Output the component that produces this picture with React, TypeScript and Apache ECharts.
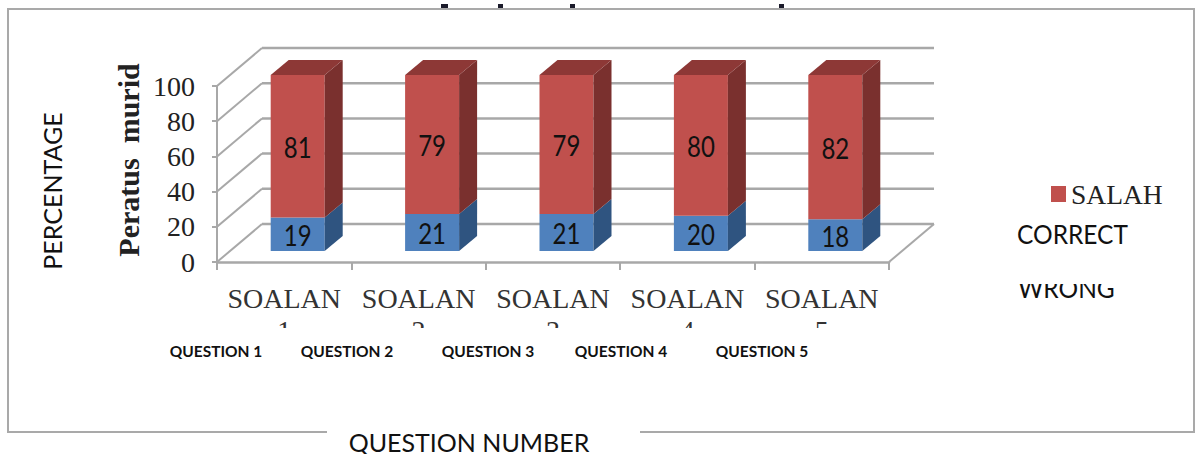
import React, { useEffect, useRef } from "react";
import * as echarts from "echarts";

const categories = ["SOALAN\n1", "SOALAN\n2", "SOALAN\n3", "SOALAN\n4", "SOALAN\n5"];
const englishLabels = ["QUESTION 1", "QUESTION 2", "QUESTION 3", "QUESTION 4", "QUESTION 5"];
const englishLabelX = [216, 347, 488, 621, 762];
const correctValues = [19, 21, 21, 20, 18];
const wrongValues = [81, 79, 79, 80, 82];
const yTicks = [0, 20, 40, 60, 80, 100];
const clippedTitleMarks = [[441, 7], [498, 5], [570, 5], [779, 5]];

const WALL_DX = 45;
const WALL_DY = -38;
const BAR_SHIFT_X = 13.5;
const BAR_SHIFT_Y = -11;
const BAR_W = 54;
const BAR_DX = 18;
const BAR_DY = -15;
const GRID_COLOR = "#a8a8a8";

const wallRender = (params: any, api: any) => {
  const cs = params.coordSys;
  const v = api.value(1);
  const y = api.coord([0, v])[1];
  const x0 = cs.x;
  const x1 = cs.x + cs.width;
  const children: any[] = [
    { type: "line", shape: { x1: x0, y1: y, x2: x0 + WALL_DX, y2: y + WALL_DY }, style: { stroke: GRID_COLOR, lineWidth: 2 } },
    { type: "line", shape: { x1: x0 + WALL_DX, y1: y + WALL_DY, x2: x1 + WALL_DX, y2: y + WALL_DY }, style: { stroke: GRID_COLOR, lineWidth: 2.5 } },
  ];
  if (v === 0) {
    children.push({ type: "line", shape: { x1: x1, y1: y, x2: x1 + WALL_DX, y2: y + WALL_DY }, style: { stroke: GRID_COLOR, lineWidth: 2 } });
  }
  return { type: "group", children };
};

const barRender = (base: number[], front: string, side: string, top: string | null) => (params: any, api: any) => {
  const i = api.value(0);
  const v = api.value(1);
  const b = base[i];
  const cx = api.coord([i, 0])[0] + BAR_SHIFT_X;
  const yb = api.coord([i, b])[1] + BAR_SHIFT_Y;
  const yt = api.coord([i, b + v])[1] + BAR_SHIFT_Y;
  const l = cx - BAR_W / 2;
  const r = cx + BAR_W / 2;
  const children: any[] = [
    { type: "polygon", shape: { points: [[l, yt], [r, yt], [r, yb], [l, yb]] }, style: { fill: front } },
    { type: "polygon", shape: { points: [[r, yt], [r + BAR_DX, yt + BAR_DY], [r + BAR_DX, yb + BAR_DY], [r, yb]] }, style: { fill: side } },
  ];
  if (top) {
    children.push({ type: "polygon", shape: { points: [[l, yt], [l + BAR_DX, yt + BAR_DY], [r + BAR_DX, yt + BAR_DY], [r, yt]] }, style: { fill: top } });
  }
  children.push({
    type: "text",
    x: cx,
    y: (yt + yb) / 2 + 1,
    scaleY: 1.2,
    style: { text: String(v), fill: "#111", font: '24px Lato', align: "center", verticalAlign: "middle" },
  });
  return { type: "group", children };
};

export default function App() {
  const ref = useRef<HTMLDivElement>(null);
  useEffect(() => {
    document.body.style.margin = "0";
    const chart = echarts.init(ref.current!, undefined, { renderer: "svg" });
    chart.setOption({
      animation: false,
      backgroundColor: "#fff",
      grid: { left: 217, top: 86, width: 672, height: 176 },
      legend: {
        data: [{ name: "SALAH", icon: "rect" }],
        left: 1051,
        top: 180,
        padding: 0,
        itemWidth: 15,
        itemHeight: 16,
        itemGap: 0,
        selectedMode: false,
        textStyle: { fontFamily: "Liberation Serif", fontSize: 27.5, color: "#222" },
      },
      xAxis: {
        type: "category",
        data: categories,
        axisLine: { lineStyle: { color: GRID_COLOR, width: 2.5 } },
        axisTick: { show: true, length: 8, lineStyle: { color: GRID_COLOR, width: 2 } },
        axisLabel: { fontFamily: "Liberation Serif", fontSize: 28, color: "#333", margin: 20, lineHeight: 32, interval: 0 },
      },
      yAxis: {
        type: "value",
        min: 0,
        max: 100,
        interval: 20,
        splitLine: { show: false },
        axisLine: { show: true, lineStyle: { color: GRID_COLOR, width: 2 } },
        axisTick: { show: true, length: 5, lineStyle: { color: GRID_COLOR, width: 2 } },
        axisLabel: { fontFamily: "Liberation Serif", fontSize: 28, color: "#222", margin: 22 },
      },
      series: [
        {
          type: "custom",
          name: "walls",
          data: yTicks.map((t) => [0, t]),
          encode: { x: 0, y: 1 },
          renderItem: wallRender,
          z: 1,
          silent: true,
        },
        {
          type: "custom",
          name: "CORRECT",
          data: correctValues.map((v, i) => [i, v]),
          encode: { x: 0, y: 1 },
          renderItem: barRender(correctValues.map(() => 0), "#4f81bd", "#2f5480", null),
          itemStyle: { color: "#4f81bd" },
          z: 3,
        },
        {
          type: "custom",
          name: "SALAH",
          data: wrongValues.map((v, i) => [i, v]),
          encode: { x: 0, y: 1 },
          renderItem: barRender(correctValues, "#c0504d", "#7a302e", "#8d3836"),
          itemStyle: { color: "#c0504d" },
          z: 3,
        },
      ],
      graphic: [
        { type: "rect", z: 50, shape: { x: 8, y: 9, width: 1186, height: 423 }, style: { fill: "none", stroke: "#a9a9a9", lineWidth: 2 } },
        { type: "rect", z: 51, shape: { x: 327, y: 426, width: 313, height: 12 }, style: { fill: "#fff" } },
        { type: "rect", z: 52, shape: { x: 200, y: 328, width: 720, height: 22 }, style: { fill: "#fff" } },
        ...clippedTitleMarks.map(([x, w]) => ({ type: "rect", z: 60, shape: { x, y: 4, width: w, height: 4 }, style: { fill: "#1a1a2a" } })),
        ...englishLabels.map((t, i) => ({
          type: "text",
          z: 60,
          x: englishLabelX[i],
          y: 351,
          style: { text: t, fill: "#111", font: 'bold 15.5px Lato', align: "center", verticalAlign: "middle" },
        })),
        { type: "text", z: 60, x: 469, y: 442, style: { text: "QUESTION NUMBER", fill: "#111", font: '25px Lato', align: "center", verticalAlign: "middle" } },
        { type: "text", z: 60, x: 52, y: 191, rotation: Math.PI / 2, style: { text: "PERCENTAGE", fill: "#111", font: '25px Lato', align: "center", verticalAlign: "middle" } },
        { type: "text", z: 60, x: 128, y: 160, rotation: Math.PI / 2, style: { text: "Peratus  murid", fill: "#222", font: 'bold 30px "Liberation Serif"', align: "center", verticalAlign: "middle" } },
        { type: "text", z: 60, x: 1017, y: 234, scaleY: 1.1, style: { text: "CORRECT", fill: "#111", font: '24.5px Lato', align: "left", verticalAlign: "middle" } },
        { type: "text", z: 60, x: 1018, y: 288, scaleY: 1.1, style: { text: "WRONG", fill: "#111", font: '24.5px Lato', align: "left", verticalAlign: "middle" } },
        { type: "rect", z: 61, shape: { x: 1010, y: 262, width: 120, height: 22 }, style: { fill: "#fff" } },
      ],
    });
    return () => chart.dispose();
  }, []);
  return <div ref={ref} style={{ width: 1196, height: 454 }} />;
}
